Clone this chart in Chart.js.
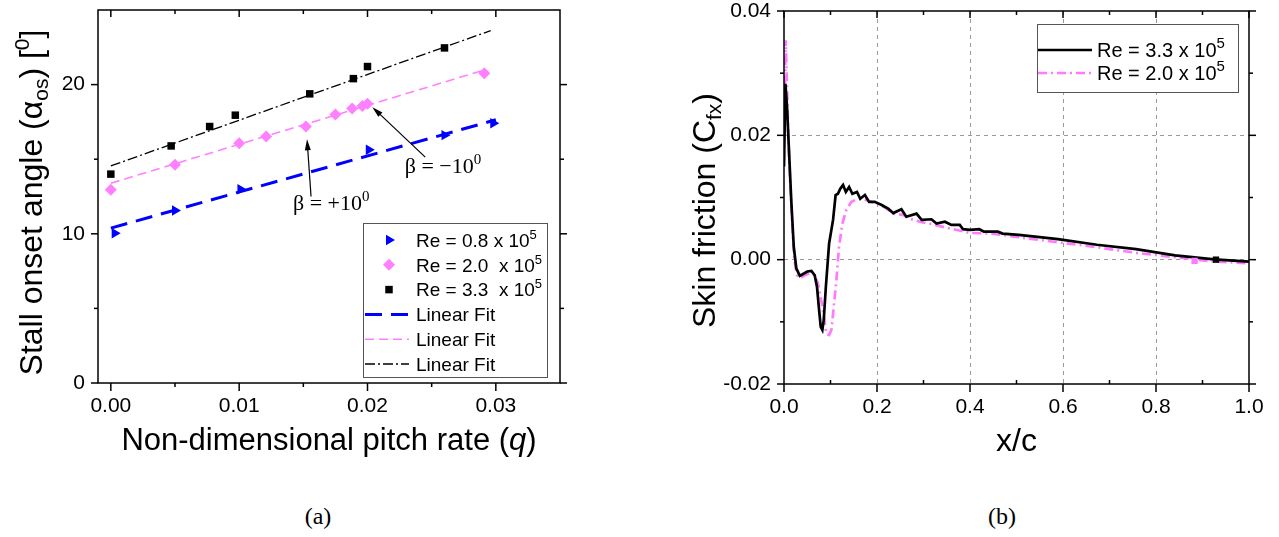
<!DOCTYPE html>
<html>
<head>
<meta charset="utf-8">
<title>Stall onset angle and skin friction</title>
<script src="https://cdn.jsdelivr.net/npm/chart.js@4.4.1/dist/chart.umd.min.js"></script>
<style>
  html, body { margin: 0; padding: 0; background: #fff; }
  body { width: 1279px; height: 537px; position: relative; overflow: hidden; }
  canvas { position: absolute; top: 0; }
  #chartA { left: 0; }
  #chartB { left: 640px; }
  .caption {
    position: absolute; top: 503px; width: 60px; margin-left: -30px; text-align: center;
    font-family: "Liberation Serif", "DejaVu Serif", serif; font-size: 24px; color: #000;
  }
</style>
</head>
<body>
<canvas id="chartA" width="640" height="480"></canvas>
<canvas id="chartB" width="639" height="480"></canvas>
<div class="caption" style="left:318px">(a)</div>
<div class="caption" style="left:1002px">(b)</div>
<script>
// ---- (a) stall onset angle vs non-dimensional pitch rate ----
const qLow = [0.0003, 0.0050, 0.0101, 0.0201, 0.0260, 0.0298];
const alphaLow = [10.04, 11.56, 12.99, 15.63, 16.61, 17.41];
const qMid = [0.0, 0.0050, 0.0100, 0.0121, 0.0152, 0.0175, 0.0188, 0.0196, 0.0200, 0.0291];
const alphaMid = [12.95, 14.62, 16.07, 16.52, 17.19, 17.99, 18.40, 18.57, 18.71, 20.76];
const qHigh = [0.0, 0.0047, 0.0077, 0.0097, 0.0155, 0.0189, 0.0200, 0.0260];
const alphaHigh = [14.0, 15.89, 17.19, 17.95, 19.38, 20.40, 21.21, 22.46];

// linear fits, end points
const fitLowQ = [0, 0.0300], fitLowAlpha = [10.38, 17.64];
const fitMidQ = [0, 0.0291], fitMidAlpha = [13.39, 20.98];
const fitHighQ = [0, 0.0296], fitHighAlpha = [14.55, 23.62];

const qTicks = [0, 0.01, 0.02, 0.03];
const qTickLabels = ['0.00', '0.01', '0.02', '0.03'];
const qMinor = [0.005, 0.015, 0.025];
const alphaTicks = [0, 10, 20];
const alphaTickLabels = ['0', '10', '20'];
const alphaMinor = [5, 15];

// ---- (b) skin friction along the chord ----
const xcHigh = [0, 0.003, 0.0065, 0.011, 0.016, 0.021, 0.0265, 0.034, 0.041, 0.05, 0.059, 0.066, 0.071,
  0.0755, 0.079, 0.0825, 0.0855, 0.09, 0.097, 0.1055, 0.111, 0.116, 0.121, 0.127, 0.133, 0.14, 0.147,
  0.157, 0.164, 0.174, 0.183, 0.195, 0.21, 0.224, 0.235, 0.2525, 0.263, 0.285, 0.296, 0.317, 0.328,
  0.346, 0.36, 0.378, 0.385, 0.4, 0.42, 0.43, 0.46, 0.47, 0.505, 0.53, 0.589, 0.673, 0.757, 0.841,
  0.925, 1.0];
const cfHigh = [0.015, 0.0283, 0.0246, 0.0171, 0.009, 0.0021, -0.0014, -0.0026, -0.0023, -0.0019, -0.0018,
  -0.0025, -0.0044, -0.0081, -0.0108, -0.0113, -0.0097, -0.0044, 0.0026, 0.0064, 0.0104, 0.0106, 0.0114,
  0.012, 0.0109, 0.0117, 0.0106, 0.0109, 0.0098, 0.0104, 0.0093, 0.0093, 0.0088, 0.0082, 0.0075, 0.0081,
  0.0069, 0.0074, 0.0064, 0.0065, 0.0058, 0.0061, 0.0056, 0.0056, 0.0049, 0.0048, 0.0049, 0.0045,
  0.0045, 0.0042, 0.0040, 0.0038, 0.0033, 0.0024, 0.0017, 0.0007, 0.00005, -0.0003];
const xcMid = [0, 0.0036, 0.0065, 0.0093, 0.0136, 0.018, 0.0222, 0.028, 0.035, 0.0445, 0.055, 0.066,
  0.073, 0.08, 0.086, 0.091, 0.097, 0.102, 0.107, 0.1126, 0.1184, 0.1255, 0.134, 0.145, 0.156, 0.17,
  0.184, 0.199, 0.217, 0.235, 0.256, 0.27, 0.292, 0.3135, 0.335, 0.364, 0.4, 0.447, 0.505, 0.589,
  0.673, 0.757, 0.841, 0.925, 1.0];
const cfMid = [0.016, 0.0353, 0.0278, 0.0198, 0.0117, 0.0053, -0.0001, -0.0025, -0.003, -0.0025, -0.0022,
  -0.0025, -0.0038, -0.0065, -0.0092, -0.0119, -0.0121, -0.0113, -0.0076, -0.0033, 0.0021, 0.0058,
  0.008, 0.0093, 0.0097, 0.0098, 0.0094, 0.009, 0.0084, 0.0074, 0.0072, 0.0066, 0.0061, 0.0058,
  0.0054, 0.0049, 0.0043, 0.0042, 0.0036, 0.0028, 0.002, 0.0011, 0.0004, -0.0003, -0.0006];
// single symbols sitting on the curves
const markHigh = [0.929, 0.0];
const markMid = [0.883, -0.0002];

const xcTicks = [0, 0.2, 0.4, 0.6, 0.8, 1.0];
const xcTickLabels = ['0.0', '0.2', '0.4', '0.6', '0.8', '1.0'];
const xcMinor = [0.1, 0.3, 0.5, 0.7, 0.9];
const cfTicks = [-0.02, 0, 0.02, 0.04];
const cfTickLabels = ['-0.02', '0.00', '0.02', '0.04'];
const cfMinor = [-0.01, 0.01, 0.03];

const SANS = '"Liberation Sans", Arial, sans-serif';
const SERIF = '"Liberation Serif", "Times New Roman", serif';
const BLUE = '#0000ff', PINK = '#ff80ff', PINK_LINE = '#ff7aff';

const toPts = (xs, ys) => xs.map((v, i) => ({ x: v, y: ys[i] }));
const allTicks = (major, minor) => major.concat(minor).sort((a, b) => a - b).map(v => ({ value: v }));
const tickLabel = (vals, labels) => v => {
  const i = vals.indexOf(v);
  return i >= 0 ? labels[i] : '';
};

// text with sub/superscripts: runs are [text, size, raise, italic]
function richText(ctx, runs, x, y, opts) {
  opts = opts || {};
  const family = opts.family || SANS;
  ctx.save();
  ctx.translate(x, y);
  if (opts.rotate) ctx.rotate(opts.rotate);
  ctx.fillStyle = '#000';
  ctx.textBaseline = 'alphabetic';
  ctx.textAlign = 'left';
  const fonts = runs.map(r => (r[3] ? 'italic ' : '') + r[1] + 'px ' + family);
  const widths = runs.map((r, i) => { ctx.font = fonts[i]; return ctx.measureText(r[0]).width; });
  const total = widths.reduce((a, b) => a + b, 0);
  let cx = opts.align === 'left' ? 0 : -total / 2;
  runs.forEach((r, i) => {
    ctx.font = fonts[i];
    ctx.fillText(r[0], cx, -(r[2] || 0));
    cx += widths[i];
  });
  ctx.restore();
}

// box frame plus major/minor tick marks on all four sides (positive length = outward)
const frame = {
  id: 'frame',
  afterDraw(chart, args, o) {
    const { ctx, chartArea: a, scales: { x, y } } = chart;
    ctx.save();
    ctx.strokeStyle = '#000';
    ctx.lineWidth = 1.5;
    ctx.strokeRect(a.left, a.top, a.right - a.left, a.bottom - a.top);
    const seg = (x1, y1, x2, y2) => { ctx.beginPath(); ctx.moveTo(x1, y1); ctx.lineTo(x2, y2); ctx.stroke(); };
    const doX = (vals, k) => vals.forEach(v => {
      const px = x.getPixelForValue(v);
      seg(px, a.bottom, px, a.bottom + o.bottom[k]);
      seg(px, a.top, px, a.top - o.top[k]);
    });
    const doY = (vals, k) => vals.forEach(v => {
      const py = y.getPixelForValue(v);
      seg(a.left, py, a.left - o.left[k], py);
      seg(a.right, py, a.right + o.right[k], py);
    });
    doX(o.xMajor, 0); doX(o.xMinor, 1);
    doY(o.yMajor, 0); doY(o.yMinor, 1);
    ctx.restore();
  }
};

// axis titles with sub/superscripts
const titles = {
  id: 'titles',
  afterDraw(chart, args, o) {
    const { ctx, chartArea: a } = chart;
    richText(ctx, o.x.runs, (a.left + a.right) / 2, o.x.baseline);
    richText(ctx, o.y.runs, o.y.baseline, (a.top + a.bottom) / 2 + o.y.shift, { rotate: -Math.PI / 2 });
  }
};

// boxed legend drawn from the dataset styles
const boxLegend = {
  id: 'boxLegend',
  afterDraw(chart, args, o) {
    const ctx = chart.ctx;
    const [x1, y1, x2, y2] = o.box;
    ctx.save();
    ctx.fillStyle = '#fff';
    ctx.fillRect(x1, y1, x2 - x1, y2 - y1);
    ctx.strokeStyle = '#555';
    ctx.lineWidth = 1;
    ctx.strokeRect(x1 + 0.5, y1 + 0.5, x2 - x1, y2 - y1);
    o.entries.forEach((e, i) => {
      const ds = chart.data.datasets[e.ds];
      const ry = o.rowY + i * o.rowGap;
      if (e.mark) {
        ctx.fillStyle = ds.pointBackgroundColor;
        Chart.helpers.drawPoint(ctx, {
          pointStyle: ds.pointStyle, rotation: ds.pointRotation || 0,
          radius: ds.pointRadius, borderWidth: 0
        }, o.markX, ry);
      } else {
        ctx.save();
        ctx.strokeStyle = ds.borderColor;
        ctx.lineWidth = ds.borderWidth;
        ctx.setLineDash(ds.borderDash || []);
        ctx.beginPath();
        ctx.moveTo(o.lineX[0], ry);
        ctx.lineTo(o.lineX[1], ry);
        ctx.stroke();
        ctx.restore();
      }
      richText(ctx, e.runs, o.textX, ry + o.font * 0.36, { align: 'left' });
    });
    ctx.restore();
  }
};

// arrows and beta labels placed in data coordinates
const notes = {
  id: 'notes',
  afterDatasetsDraw(chart, args, o) {
    const { ctx, scales: { x, y } } = chart;
    ctx.save();
    ctx.strokeStyle = '#000';
    ctx.fillStyle = '#000';
    ctx.lineWidth = 1.2;
    o.arrows.forEach(ar => {
      const sx = x.getPixelForValue(ar.tail[0]), sy = y.getPixelForValue(ar.tail[1]);
      const tx = x.getPixelForValue(ar.tip[0]), ty = y.getPixelForValue(ar.tip[1]);
      const ang = Math.atan2(ty - sy, tx - sx), c = Math.cos(ang), s = Math.sin(ang);
      ctx.beginPath();
      ctx.moveTo(sx, sy);
      ctx.lineTo(tx - 8 * c, ty - 8 * s);
      ctx.stroke();
      ctx.beginPath();
      ctx.moveTo(tx, ty);
      ctx.lineTo(tx - 11 * c + 3 * s, ty - 11 * s - 3 * c);
      ctx.lineTo(tx - 11 * c - 3 * s, ty - 11 * s + 3 * c);
      ctx.closePath();
      ctx.fill();
    });
    o.labels.forEach(l => {
      richText(ctx, l.runs, x.getPixelForValue(l.at[0]), y.getPixelForValue(l.at[1]),
        { align: 'left', family: SERIF });
    });
    ctx.restore();
  }
};

const tickFont = { family: SANS, size: 21 };

// ---------------- chart (a) ----------------
new Chart(document.getElementById('chartA'), {
  type: 'scatter',
  data: {
    datasets: [
      { label: 'Re = 0.8 x 10^5', data: toPts(qLow, alphaLow), pointStyle: 'triangle', pointRotation: 90,
        pointRadius: 6, pointBackgroundColor: BLUE, pointBorderWidth: 0, showLine: false },
      { label: 'Re = 2.0 x 10^5', data: toPts(qMid, alphaMid), pointStyle: 'rectRot',
        pointRadius: 6, pointBackgroundColor: PINK, pointBorderWidth: 0, showLine: false },
      { label: 'Re = 3.3 x 10^5', data: toPts(qHigh, alphaHigh), pointStyle: 'rect',
        pointRadius: 5.3, pointBackgroundColor: '#000', pointBorderWidth: 0, showLine: false },
      { label: 'Linear Fit', data: toPts(fitLowQ, fitLowAlpha), showLine: true, pointRadius: 0,
        borderColor: BLUE, borderWidth: 3, borderDash: [17, 9] },
      { label: 'Linear Fit', data: toPts(fitMidQ, fitMidAlpha), showLine: true, pointRadius: 0,
        borderColor: PINK, borderWidth: 1.6, borderDash: [9, 5] },
      { label: 'Linear Fit', data: toPts(fitHighQ, fitHighAlpha), showLine: true, pointRadius: 0,
        borderColor: '#000', borderWidth: 1.3, borderDash: [10, 3, 2, 3] }
    ]
  },
  options: {
    responsive: false,
    animation: false,
    events: [],
    layout: { padding: { top: 10, right: 80, left: 0, bottom: 0 } },
    plugins: {
      legend: { display: false },
      tooltip: { enabled: false },
      frame: {
        xMajor: qTicks, xMinor: qMinor, yMajor: alphaTicks, yMinor: alphaMinor,
        bottom: [8, 4], top: [-7, -4], left: [7, 4], right: [7, 4]
      },
      titles: {
        x: { runs: [['Non-dimensional pitch rate (', 31], ['q', 31, 0, true], [')', 31]], baseline: 450 },
        y: { runs: [['Stall onset angle (', 32], ['α', 32], ['os', 21, -6], [') [', 32], ['0', 21, 13], [']', 32]],
             baseline: 42, shift: 6 }
      },
      boxLegend: {
        box: [363, 223, 547, 377], rowY: 240, rowGap: 24.8, markX: 389, lineX: [365, 409], textX: 416, font: 19,
        entries: [
          { ds: 0, mark: true, runs: [['Re = 0.8 x 10', 19], ['5', 13, 8]] },
          { ds: 1, mark: true, runs: [['Re = 2.0  x 10', 19], ['5', 13, 8]] },
          { ds: 2, mark: true, runs: [['Re = 3.3  x 10', 19], ['5', 13, 8]] },
          { ds: 3, runs: [['Linear Fit', 19]] },
          { ds: 4, runs: [['Linear Fit', 19]] },
          { ds: 5, runs: [['Linear Fit', 19]] }
        ]
      },
      notes: {
        arrows: [
          { tail: [0.0245, 15.14], tip: [0.02038, 18.49] },
          { tail: [0.0156, 12.5], tip: [0.01529, 16.34] }
        ],
        labels: [
          { at: [0.0229, 14.09], runs: [['β = −10', 22], ['0', 15, 9]] },
          { at: [0.01419, 11.61], runs: [['β = +10', 22], ['0', 15, 9]] }
        ]
      }
    },
    scales: {
      x: {
        type: 'linear', min: -0.001, max: 0.035,
        grid: { display: false, drawTicks: false },
        border: { display: false },
        afterBuildTicks: s => { s.ticks = allTicks(qTicks, qMinor); },
        afterFit: s => { s.height = 97; s.paddingLeft = 0; s.paddingRight = 0; },
        ticks: { autoSkip: false, maxRotation: 0, padding: 11, color: '#000', font: tickFont,
                 callback: tickLabel(qTicks, qTickLabels) }
      },
      y: {
        type: 'linear', min: 0, max: 25,
        grid: { display: false, drawTicks: false },
        border: { display: false },
        afterBuildTicks: s => { s.ticks = allTicks(alphaTicks, alphaMinor); },
        afterFit: s => { s.width = 98; s.paddingTop = 0; s.paddingBottom = 0; },
        ticks: { autoSkip: false, padding: 13, color: '#000', font: tickFont,
                 callback: tickLabel(alphaTicks, alphaTickLabels) }
      }
    }
  },
  plugins: [frame, titles, boxLegend, notes]
});

// ---------------- chart (b) ----------------
const isInnerMajor = (vals, v) => vals.indexOf(v) > 0 && vals.indexOf(v) < vals.length - 1;

new Chart(document.getElementById('chartB'), {
  type: 'scatter',
  data: {
    datasets: [
      { label: 'mark 3.3', data: [{ x: markHigh[0], y: markHigh[1] }], pointStyle: 'rect', pointRadius: 4.5,
        pointBackgroundColor: '#000', pointBorderWidth: 0, showLine: false },
      { label: 'mark 2.0', data: [{ x: markMid[0], y: markMid[1] }], pointStyle: 'rect', pointRadius: 4.5,
        pointBackgroundColor: PINK_LINE, pointBorderWidth: 0, showLine: false },
      { label: 'Re = 3.3 x 10^5', data: toPts(xcHigh, cfHigh), showLine: true, pointRadius: 0,
        borderColor: '#000', borderWidth: 2.7 },
      { label: 'Re = 2.0 x 10^5', data: toPts(xcMid, cfMid), showLine: true, pointRadius: 0,
        borderColor: PINK_LINE, borderWidth: 2.7, borderDash: [9, 4, 2, 4] }
    ]
  },
  options: {
    responsive: false,
    animation: false,
    events: [],
    layout: { padding: { top: 11, right: 30, left: 0, bottom: 0 } },
    plugins: {
      legend: { display: false },
      tooltip: { enabled: false },
      frame: {
        xMajor: xcTicks, xMinor: xcMinor, yMajor: cfTicks, yMinor: cfMinor,
        bottom: [8, -4], top: [-7, -4], left: [7, 4], right: [7, 4]
      },
      titles: {
        x: { runs: [['x/c', 32]], baseline: 451 },
        y: { runs: [['Skin friction (C', 32], ['fx', 21, -6], [')', 32]], baseline: 75, shift: 13 }
      },
      boxLegend: {
        box: [397, 24, 598, 92], rowY: 50, rowGap: 23, markX: 425, lineX: [398, 452], textX: 457, font: 20,
        entries: [
          { ds: 2, runs: [['Re = 3.3 x 10', 20], ['5', 15, 9]] },
          { ds: 3, runs: [['Re = 2.0 x 10', 20], ['5', 15, 9]] }
        ]
      }
    },
    scales: {
      x: {
        type: 'linear', min: 0, max: 1,
        grid: { drawTicks: false, lineWidth: 1,
                color: c => isInnerMajor(xcTicks, c.tick.value) ? '#9a9a9a' : 'rgba(0,0,0,0)' },
        border: { display: false, dash: [4, 4] },
        afterBuildTicks: s => { s.ticks = allTicks(xcTicks, xcMinor); },
        afterFit: s => { s.height = 96; s.paddingLeft = 0; s.paddingRight = 0; },
        ticks: { autoSkip: false, maxRotation: 0, padding: 11, color: '#000', font: tickFont,
                 callback: tickLabel(xcTicks, xcTickLabels) }
      },
      y: {
        type: 'linear', min: -0.02, max: 0.04,
        grid: { drawTicks: false, lineWidth: 1,
                color: c => isInnerMajor(cfTicks, c.tick.value) ? '#9a9a9a' : 'rgba(0,0,0,0)' },
        border: { display: false, dash: [4, 4] },
        afterBuildTicks: s => { s.ticks = allTicks(cfTicks, cfMinor); },
        afterFit: s => { s.width = 144; s.paddingTop = 0; s.paddingBottom = 0; },
        ticks: { autoSkip: false, padding: 13, color: '#000', font: tickFont,
                 callback: tickLabel(cfTicks, cfTickLabels) }
      }
    }
  },
  plugins: [frame, titles, boxLegend]
});
</script>
</body>
</html>
